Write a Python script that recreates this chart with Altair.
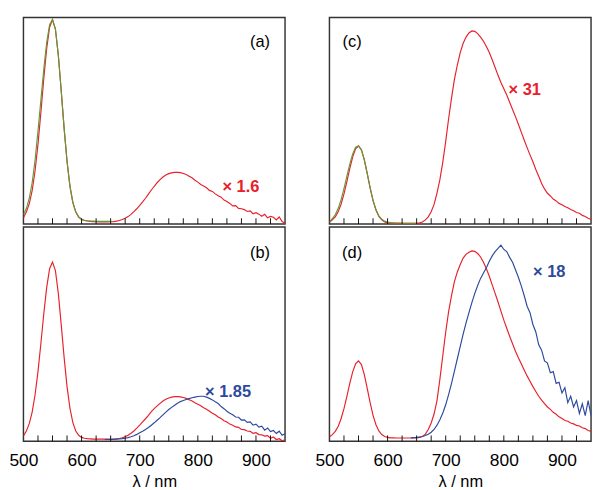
import altair as alt
import pandas as pd

# ---------------- data ----------------
wl = list(range(500, 955, 5))          # 91 points
wl_green = list(range(500, 655, 5))    # 31 points
wl_blue = list(range(640, 955, 5))     # 63 points

red_a = [0.03, 0.058, 0.098, 0.162, 0.258, 0.386, 0.54, 0.705, 0.85, 0.953,
         0.99, 0.943, 0.817, 0.644, 0.462, 0.303, 0.183, 0.104, 0.058, 0.034,
         0.022, 0.017, 0.015, 0.013, 0.012, 0.011, 0.01, 0.01, 0.01, 0.01,
         0.011, 0.012, 0.014, 0.017, 0.022, 0.028, 0.036, 0.047, 0.06, 0.074,
         0.09, 0.107, 0.125, 0.145, 0.165, 0.183, 0.2, 0.215, 0.228, 0.237,
         0.244, 0.248, 0.25, 0.25, 0.249, 0.245, 0.24, 0.232, 0.224, 0.212,
         0.203, 0.192, 0.184, 0.176, 0.163, 0.158, 0.146, 0.137, 0.13, 0.116,
         0.109, 0.1, 0.088, 0.089, 0.076, 0.074, 0.07, 0.061, 0.064, 0.05,
         0.055, 0.048, 0.038, 0.047, 0.03, 0.037, 0.033, 0.02, 0.034, 0.012,
         0.004]
green_a = [0.045, 0.075, 0.125, 0.2, 0.31, 0.45, 0.6, 0.75, 0.88, 0.965,
           0.99, 0.945, 0.818, 0.645, 0.463, 0.304, 0.184, 0.105, 0.059, 0.035,
           0.023, 0.018, 0.016, 0.015, 0.014, 0.013, 0.013, 0.013, 0.013, 0.013,
           0.013]

red_b = [0.025, 0.048, 0.082, 0.136, 0.217, 0.325, 0.456, 0.595, 0.718, 0.805,
         0.836, 0.796, 0.69, 0.543, 0.39, 0.255, 0.154, 0.087, 0.048, 0.028,
         0.018, 0.014, 0.012, 0.011, 0.01, 0.01, 0.01, 0.01, 0.01, 0.01,
         0.01, 0.01, 0.011, 0.013, 0.016, 0.021, 0.028, 0.037, 0.048, 0.061,
         0.075, 0.09, 0.105, 0.121, 0.138, 0.152, 0.165, 0.177, 0.188, 0.196,
         0.202, 0.206, 0.208, 0.208, 0.207, 0.204, 0.2, 0.194, 0.188, 0.18,
         0.173, 0.166, 0.156, 0.149, 0.14, 0.131, 0.124, 0.113, 0.106, 0.096,
         0.09, 0.08, 0.075, 0.067, 0.065, 0.055, 0.054, 0.048, 0.046, 0.037,
         0.04, 0.031, 0.03, 0.024, 0.026, 0.014, 0.02, 0.008, 0.012, 0.002,
         0.007]
blue_b = [0.008, 0.008, 0.008, 0.009, 0.01, 0.011, 0.012, 0.014, 0.017, 0.021,
          0.026, 0.032, 0.04, 0.047, 0.055, 0.064, 0.075, 0.086, 0.098, 0.11,
          0.123, 0.136, 0.148, 0.158, 0.168, 0.177, 0.185, 0.19, 0.195, 0.199,
          0.203, 0.206, 0.209, 0.21, 0.21, 0.206, 0.2, 0.193, 0.184, 0.176,
          0.162, 0.152, 0.14, 0.131, 0.124, 0.113, 0.112, 0.099, 0.1, 0.088,
          0.09, 0.075, 0.08, 0.066, 0.07, 0.052, 0.062, 0.045, 0.05, 0.036,
          0.047, 0.028, 0.035]

red_c = [0.009, 0.02, 0.035, 0.06, 0.096, 0.146, 0.205, 0.268, 0.325, 0.364,
         0.378, 0.36, 0.312, 0.245, 0.175, 0.114, 0.068, 0.037, 0.02, 0.01,
         0.006, 0.005, 0.004, 0.003, 0.003, 0.003, 0.003, 0.003, 0.003, 0.004,
         0.004, 0.006, 0.01, 0.02, 0.035, 0.06, 0.095, 0.15, 0.215, 0.3,
         0.4, 0.51, 0.61, 0.7, 0.77, 0.83, 0.875, 0.905, 0.925, 0.935,
         0.933, 0.922, 0.905, 0.885, 0.86, 0.83, 0.795, 0.758, 0.72, 0.685,
         0.655, 0.625, 0.59, 0.555, 0.52, 0.483, 0.445, 0.407, 0.37, 0.335,
         0.302, 0.264, 0.231, 0.196, 0.17, 0.149, 0.136, 0.121, 0.112, 0.1,
         0.094, 0.085, 0.079, 0.07, 0.064, 0.056, 0.052, 0.042, 0.037, 0.028,
         0.022]
green_c = [0.012, 0.026, 0.045, 0.075, 0.118, 0.172, 0.232, 0.29, 0.34, 0.372,
           0.378, 0.358, 0.31, 0.244, 0.175, 0.115, 0.07, 0.04, 0.023, 0.014,
           0.01, 0.007, 0.006, 0.005, 0.005, 0.004, 0.004, 0.004, 0.004, 0.004,
           0.004]

red_d = [0.02, 0.031, 0.046, 0.069, 0.105, 0.152, 0.209, 0.27, 0.324, 0.361,
         0.375, 0.358, 0.311, 0.247, 0.18, 0.121, 0.077, 0.048, 0.031, 0.022,
         0.018, 0.016, 0.016, 0.015, 0.015, 0.015, 0.015, 0.015, 0.015, 0.015,
         0.016, 0.018, 0.022, 0.033, 0.055, 0.085, 0.127, 0.19, 0.29, 0.4,
         0.51, 0.605, 0.68, 0.745, 0.79, 0.825, 0.855, 0.872, 0.882, 0.888,
         0.886, 0.876, 0.86, 0.835, 0.805, 0.77, 0.73, 0.69, 0.65, 0.607,
         0.565, 0.527, 0.49, 0.455, 0.42, 0.39, 0.362, 0.333, 0.305, 0.28,
         0.255, 0.232, 0.21, 0.192, 0.176, 0.16, 0.149, 0.135, 0.126, 0.114,
         0.106, 0.097, 0.093, 0.085, 0.081, 0.074, 0.071, 0.063, 0.059, 0.05,
         0.046]
blue_d = [0.016, 0.017, 0.018, 0.02, 0.022, 0.027, 0.033, 0.042, 0.055, 0.075,
          0.1, 0.132, 0.17, 0.218, 0.27, 0.327, 0.385, 0.443, 0.5, 0.552,
          0.6, 0.647, 0.69, 0.727, 0.76, 0.785, 0.81, 0.84, 0.865, 0.885,
          0.9, 0.915, 0.895, 0.885, 0.858, 0.835, 0.8, 0.765, 0.725, 0.68,
          0.63, 0.6, 0.545, 0.51, 0.45, 0.425, 0.375, 0.365, 0.32, 0.325,
          0.27, 0.275, 0.225, 0.25, 0.18, 0.21, 0.16, 0.19, 0.13, 0.175,
          0.12, 0.19, 0.12]

tick_wl = list(range(525, 950, 25))
axis_values = [500, 600, 700, 800, 900]

panel_labels = ["(a)", "(b)", "(c)", "(d)"]
panel_label_x = [907, 907, 539, 539]
panel_label_y = [0.88, 0.878, 0.88, 0.878]

factor_labels = ["× 1.6", "× 1.85", "× 31", "× 18"]
factor_x = [874, 852, 836, 878]
factor_y = [0.18, 0.23, 0.65, 0.787]

RED = "#e8202a"
GREEN = "#629a3a"
BLUE = "#2c4a9c"
FONT = "Liberation Sans"

xscale = alt.Scale(domain=[500, 950], nice=False, zero=False)
yscale = alt.Scale(domain=[0, 1], nice=False, zero=False)


def make_panel(series, idx, factor_color, height, bottom):
    if bottom:
        xaxis = alt.Axis(values=axis_values, ticks=False, domain=False, grid=False,
                         labelFontSize=18, labelPadding=11, labelColor="black",
                         labelFont=FONT, labelFlush=False,
                         title="λ / nm", titleFontSize=17, titleFontWeight="normal",
                         titleFont=FONT, titleColor="black", titlePadding=5)
    else:
        xaxis = None
    layers = []
    for xs, ys, color in series:
        df = pd.DataFrame({"wl": xs, "val": ys})
        layers.append(
            alt.Chart(df).mark_line(color=color, strokeWidth=1.2, clip=True).encode(
                x=alt.X("wl:Q", scale=xscale, axis=xaxis),
                y=alt.Y("val:Q", scale=yscale, axis=None),
            )
        )
    ticks = alt.Chart(pd.DataFrame({"wl": tick_wl})).mark_rule(
        color="#111111", strokeWidth=1).encode(
        x=alt.X("wl:Q", scale=xscale, axis=xaxis),
        y=alt.value(height), y2=alt.value(height - 6),
    )
    lab = alt.Chart(pd.DataFrame({"wl": [panel_label_x[idx]], "val": [panel_label_y[idx]],
                                  "t": [panel_labels[idx]]})).mark_text(
        fontSize=17, font=FONT, color="black", align="center", baseline="middle").encode(
        x=alt.X("wl:Q", scale=xscale, axis=xaxis),
        y=alt.Y("val:Q", scale=yscale, axis=None), text="t:N")
    fac = alt.Chart(pd.DataFrame({"wl": [factor_x[idx]], "val": [factor_y[idx]],
                                  "t": [factor_labels[idx]]})).mark_text(
        fontSize=17, font=FONT, fontWeight="bold", color=factor_color,
        align="center", baseline="middle").encode(
        x=alt.X("wl:Q", scale=xscale, axis=xaxis),
        y=alt.Y("val:Q", scale=yscale, axis=None), text="t:N")
    return alt.layer(*layers, ticks, lab, fac).properties(width=271, height=height)


pa = make_panel([(wl, red_a, RED), (wl_green, green_a, GREEN)], 0, RED, 214, False)
pb = make_panel([(wl, red_b, RED), (wl_blue, blue_b, BLUE)], 1, BLUE, 222, True)
pc = make_panel([(wl, red_c, RED), (wl_green, green_c, GREEN)], 2, RED, 214, False)
pd_ = make_panel([(wl, red_d, RED), (wl_blue, blue_d, BLUE)], 3, BLUE, 222, True)

chart = alt.hconcat(
    alt.vconcat(pa, pb, spacing=0),
    alt.vconcat(pc, pd_, spacing=0),
    spacing=29,
).properties(
    padding={"left": 0, "top": 0, "right": 0, "bottom": 0},
    background="white",
).configure_view(
    stroke="#333333", strokeWidth=1.5
)

chart.save("out.html", embed_options={"renderer": "svg", "actions": False})
